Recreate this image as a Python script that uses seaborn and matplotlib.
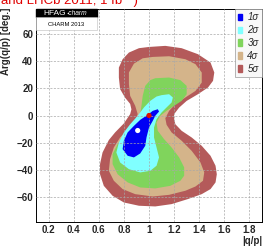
import numpy as np
import matplotlib.pyplot as plt
import matplotlib.patches as mpatches
import seaborn as sns

##############################################################
# contour outlines: |q/p| and Arg(q/p) [deg.]
sig5_x = [1.00, 1.13, 1.26, 1.39, 1.49, 1.52, 1.51, 1.47, 1.39, 1.30, 1.24, 1.20, 1.20,
          1.21, 1.26, 1.34, 1.42, 1.49, 1.53, 1.54, 1.53, 1.49, 1.42, 1.31, 1.18, 1.05,
          0.92, 0.80, 0.71, 0.64, 0.61, 0.61, 0.63, 0.68, 0.73, 0.80, 0.85, 0.86, 0.85,
          0.81, 0.77, 0.76, 0.76, 0.79, 0.84, 0.92]
sig5_y = [50.2, 51.0, 49.3, 44.9, 38.8, 31.5, 25.4, 20.5, 15.6, 10.7, 5.8, 1.0, -2.7,
          -6.4, -11.2, -16.1, -22.2, -29.5, -36.8, -43.0, -49.0, -53.9, -57.6, -61.2, -64.9, -66.6,
          -66.1, -63.7, -58.8, -51.5, -43.0, -35.6, -27.1, -18.0, -12.4, -5.8, 1.0, 4.5, 8.5,
          13.0, 19.3, 27.8, 35.1, 41.2, 46.1, 49.3]

sig4_x = [1.03, 1.16, 1.29, 1.37, 1.42, 1.42, 1.37, 1.29, 1.21, 1.16, 1.13, 1.14, 1.18,
          1.26, 1.34, 1.41, 1.44, 1.43, 1.37, 1.29, 1.16, 1.03, 0.89, 0.79, 0.72, 0.68,
          0.69, 0.72, 0.77, 0.84, 0.89, 0.91, 0.89, 0.85, 0.84, 0.84, 0.88, 0.95]
sig4_y = [42.9, 43.4, 41.2, 37.6, 31.5, 24.1, 18.0, 13.2, 8.3, 3.4, -2.0, -6.8, -12.4,
          -18.5, -25.9, -34.4, -41.7, -47.8, -52.0, -55.1, -58.1, -59.3, -57.6, -53.9, -47.8, -40.5,
          -32.0, -23.4, -16.1, -9.3, -3.9, 1.0, 7.1, 14.4, 22.9, 31.5, 38.0, 41.9]

sig3_x = [1.05, 1.16, 1.25, 1.30, 1.30, 1.26, 1.20, 1.14, 1.09, 1.06, 1.07, 1.12, 1.18,
          1.24, 1.28, 1.28, 1.25, 1.17, 1.05, 0.93, 0.83, 0.75, 0.71, 0.71, 0.75, 0.80,
          0.85, 0.90, 0.93, 0.94, 0.95, 0.97, 1.01]
sig3_y = [27.3, 27.8, 25.9, 21.7, 15.6, 10.7, 7.1, 3.4, -0.2, -5.1, -11.2, -17.3, -23.4,
          -30.7, -38.0, -44.1, -47.8, -51.5, -53.4, -52.7, -49.0, -43.0, -35.6, -28.3, -21.0, -14.9,
          -10.0, -5.1, 1.0, 7.1, 14.4, 21.7, 25.9]

sig2_x = [1.10, 1.16, 1.19, 1.18, 1.14, 1.10, 1.06, 1.04, 1.04, 1.06, 1.08, 1.06, 1.01,
          0.93, 0.84, 0.77, 0.74, 0.76, 0.80, 0.85, 0.91, 0.96, 1.01, 1.06]
sig2_y = [14.9, 15.6, 13.2, 9.5, 5.9, 2.2, -2.7, -8.8, -16.1, -23.4, -30.7, -36.8, -40.5,
          -41.7, -39.3, -34.4, -27.1, -19.8, -12.4, -6.4, -0.2, 5.9, 10.7, 13.9]

sig1_x = [1.07, 1.08, 1.05, 1.03, 1.00, 0.98, 0.97, 0.93, 0.88, 0.83, 0.79, 0.80, 0.83,
          0.88, 0.93, 0.99, 1.03]
sig1_y = [4.6, 2.9, -0.2, -3.9, -8.8, -16.1, -22.2, -27.8, -30.7, -29.5, -24.6, -18.5, -12.4,
          -7.6, -3.2, 0.5, 3.4]

# no-CPV point (red) and best fit (white)
pts_x = [1.0, 0.91]
pts_y = [0.0, -11.0]
pts_kind = ['noCPV', 'best']

levels = ['1σ', '2σ', '3σ', '4σ', '5σ']
level_colors = ['#0000f5', '#80ffff', '#80d45c', '#d4b48a', '#b45a5a']

x_ticks = [0.2, 0.4, 0.6, 0.8, 1.0, 1.2, 1.4, 1.6, 1.8]
x_labels = ['0.2', '0.4', '0.6', '0.8', '1', '1.2', '1.4', '1.6', '1.8']
y_ticks = [-60, -40, -20, 0, 20, 40, 60]
y_labels = ['−60', '−40', '−20', '0', '20', '40', '60']

##############################################################
sns.set_style('white')
plt.rcParams['font.family'] = ['Liberation Sans', 'DejaVu Sans']

fig = plt.figure(figsize=(2.64, 2.48), dpi=100)
ax = fig.add_axes([36 / 264, 26 / 248, 226 / 264, 213 / 248])

outlines = [(sig5_x, sig5_y), (sig4_x, sig4_y), (sig3_x, sig3_y), (sig2_x, sig2_y), (sig1_x, sig1_y)]
for (cx, cy), col in zip(outlines, level_colors[::-1]):
    ax.fill(cx, cy, color=col, lw=0, zorder=1)

pts = {'x': pts_x, 'y': pts_y, 'kind': pts_kind}
sns.scatterplot(data=pts, x='x', y='y', hue='kind', palette={'noCPV': '#dd1100', 'best': 'white'},
                s=14, linewidth=0, legend=False, ax=ax, zorder=4)

ax.set_xlim(0.1, 1.9)
ax.set_ylim(-78, 78)
ax.set_xticks(x_ticks)
ax.set_xticklabels(x_labels, fontsize=7, fontweight='bold')
ax.set_yticks(y_ticks)
ax.set_yticklabels(y_labels, fontsize=7, fontweight='bold')
ax.set_xticks(np.arange(0.12, 1.9, 0.04), minor=True)
ax.set_yticks(np.arange(-76, 78, 4), minor=True)
ax.tick_params(which='major', direction='in', length=4, width=0.6, pad=2, color='black')
ax.tick_params(which='minor', direction='in', length=2, width=0.5, color='black')
ax.set_xlabel('')
ax.set_ylabel('')
ax.set_axisbelow(False)
ax.grid(True, which='major', linestyle=(0, (3, 2)), color='#a8a8a8', linewidth=0.5, zorder=2)
for sp in ax.spines.values():
    sp.set_color('black')
    sp.set_linewidth(0.7)

handles = [mpatches.Patch(color=c, label=l) for c, l in zip(level_colors, levels)]
leg = ax.legend(handles=handles, loc='upper right', bbox_to_anchor=(1.0, 1.0), borderaxespad=0,
                frameon=True, fancybox=False, edgecolor='#999999', framealpha=1,
                prop={'size': 7, 'style': 'italic'}, handlelength=0.45, handleheight=0.7,
                handletextpad=0.5, labelspacing=0.3, borderpad=0.35)
leg.get_frame().set_linewidth(0.5)
leg.get_frame().set_facecolor('#f8f8f8')
leg.set_zorder(6)

# HFAG logo box
fig.patches.append(mpatches.Rectangle((36 / 264, 1 - 17 / 248), 61 / 264, 8 / 248,
                                      transform=fig.transFigure, color='black', zorder=7))
fig.patches.append(mpatches.Rectangle((36 / 264, 1 - 30 / 248), 61 / 264, 13 / 248,
                                      transform=fig.transFigure, facecolor='white',
                                      edgecolor='#bbbbbb', lw=0.4, zorder=7))
fig.text(66 / 264, 1 - 13.3 / 248, 'HFAG', color='white', fontsize=6, ha='right', va='center', zorder=8)
fig.text(67 / 264, 1 - 13.6 / 248, '-charm', color='white', fontsize=4.8, style='italic',
         ha='left', va='center', zorder=8)
fig.text(66 / 264, 1 - 24 / 248, 'CHARM 2013', color='black', fontsize=4.2, ha='center', va='center', zorder=8)

# axis titles, ROOT style
fig.text(6.5 / 264, 1 - 8 / 248, 'Arg(q/p) [deg.]', rotation=90, ha='center', va='top',
         fontsize=7, fontweight='bold')
fig.text(262 / 264, 1 - 241 / 248, '|q/p|', ha='right', va='center', fontsize=7, fontweight='bold')

# cut-off title line
fig.text(1 / 264, 1 - 4 / 248, 'and LHCb 2011, 1 fb⁻¹)', color='#e00000', fontsize=9.5,
         ha='left', va='baseline')

fig.savefig('out.png', dpi=100)
